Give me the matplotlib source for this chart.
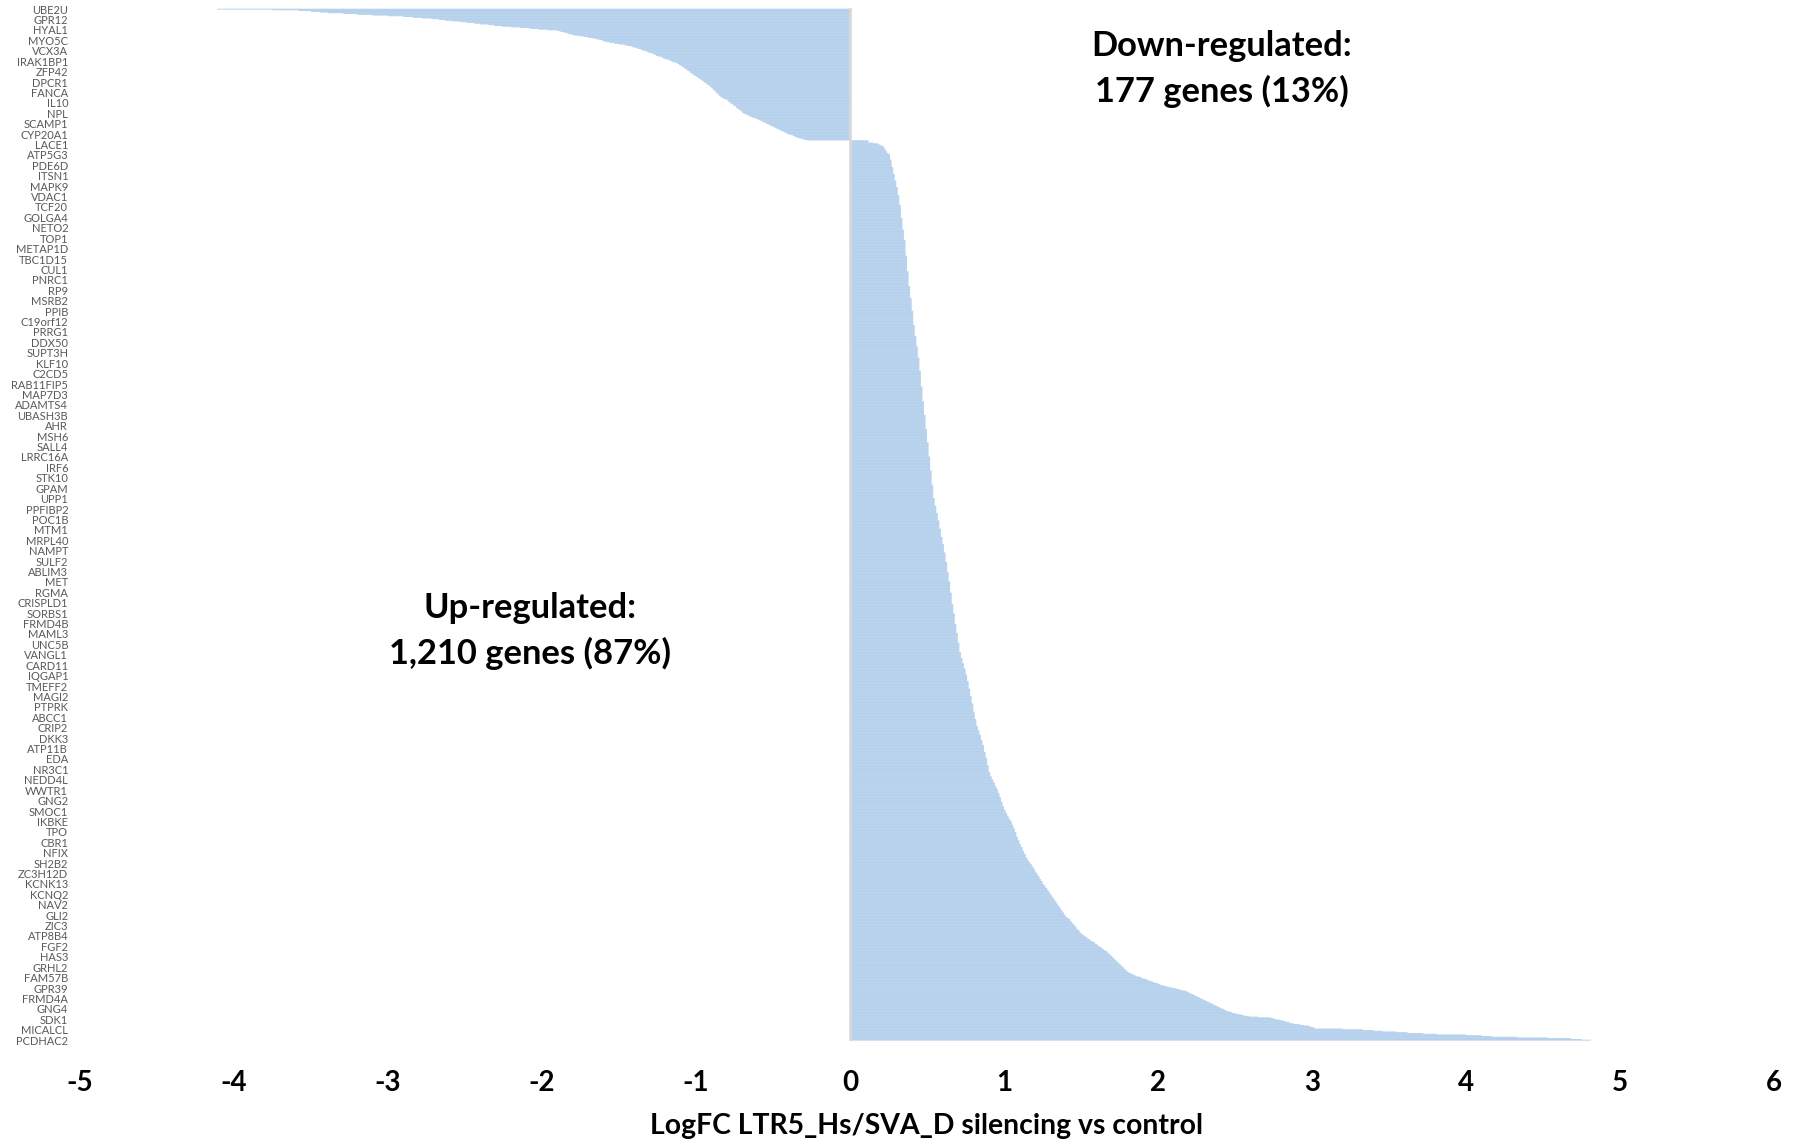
import numpy as np
import matplotlib
matplotlib.use('Agg')
import matplotlib.pyplot as plt

plt.rcParams['font.family'] = ['Lato', 'DejaVu Sans']

# sorted logFC (top of the chart first)
down_logfc = [
    -4.11, -3.75, -3.58, -3.50, -3.44, -3.39, -3.29, -3.20, -3.10, -3.00,
    -2.90, -2.84, -2.78, -2.72, -2.67, -2.63, -2.58, -2.53, -2.49, -2.44,
    -2.40, -2.35, -2.31, -2.26, -2.20, -2.14, -2.08, -2.02, -1.96, -1.90,
    -1.88, -1.86, -1.84, -1.83, -1.81, -1.79, -1.76, -1.73, -1.70, -1.67,
    -1.65, -1.63, -1.61, -1.60, -1.58, -1.56, -1.53, -1.50, -1.47, -1.45,
    -1.42, -1.41, -1.39, -1.38, -1.36, -1.35, -1.33, -1.32, -1.31, -1.29,
    -1.28, -1.27, -1.26, -1.25, -1.23, -1.22, -1.21, -1.20, -1.18, -1.17,
    -1.16, -1.15, -1.13, -1.12, -1.11, -1.11, -1.10, -1.09, -1.08, -1.08,
    -1.07, -1.06, -1.06, -1.05, -1.04, -1.04, -1.03, -1.02, -1.02, -1.01,
    -1.00, -0.99, -0.99, -0.98, -0.97, -0.97, -0.96, -0.95, -0.95, -0.94,
    -0.93, -0.93, -0.92, -0.91, -0.91, -0.90, -0.90, -0.89, -0.89, -0.88,
    -0.88, -0.87, -0.87, -0.86, -0.86, -0.85, -0.85, -0.84, -0.84, -0.83,
    -0.82, -0.81, -0.80, -0.79, -0.79, -0.78, -0.78, -0.77, -0.76, -0.76,
    -0.75, -0.74, -0.74, -0.73, -0.73, -0.72, -0.71, -0.71, -0.70, -0.70,
    -0.69, -0.68, -0.67, -0.66, -0.65, -0.64, -0.63, -0.61, -0.60, -0.59,
    -0.58, -0.57, -0.56, -0.55, -0.54, -0.53, -0.52, -0.51, -0.50, -0.49,
    -0.48, -0.47, -0.46, -0.45, -0.44, -0.43, -0.42, -0.41, -0.40, -0.38,
    -0.37, -0.36, -0.35, -0.34, -0.32, -0.30, -0.28,
]

# up-regulated bulk: logFC level and number of genes at that level
up_levels = [
    0.12, 0.15, 0.18, 0.19, 0.20, 0.21, 0.22, 0.23, 0.24, 0.25,
    0.26, 0.27, 0.28, 0.29, 0.30, 0.31, 0.32, 0.33, 0.34, 0.35,
    0.36, 0.37, 0.38, 0.39, 0.40, 0.41, 0.42, 0.43, 0.44, 0.45,
    0.46, 0.47, 0.48, 0.49, 0.50, 0.51, 0.52, 0.53, 0.54, 0.55,
    0.56, 0.57, 0.58, 0.59, 0.60, 0.61, 0.62, 0.63, 0.64, 0.65,
    0.66, 0.67, 0.68, 0.69, 0.70, 0.71, 0.72, 0.73, 0.74, 0.75,
    0.76, 0.77, 0.78, 0.79, 0.80, 0.81, 0.82, 0.83, 0.84, 0.85,
    0.86, 0.87, 0.88, 0.89, 0.90, 0.91, 0.92, 0.93, 0.94, 0.95,
    0.96, 0.97, 0.98, 0.99, 1.00, 1.01, 1.02, 1.03, 1.04, 1.05,
    1.06, 1.07, 1.08, 1.09, 1.10, 1.11, 1.12, 1.13, 1.14, 1.15,
    1.16, 1.17, 1.18, 1.19, 1.20, 1.21, 1.22, 1.23, 1.24, 1.25,
    1.26, 1.27, 1.28, 1.29, 1.30, 1.31, 1.32, 1.33, 1.34, 1.35,
    1.36, 1.37, 1.38, 1.39, 1.40, 1.41, 1.42, 1.43, 1.44, 1.45,
    1.46, 1.47, 1.48, 1.49, 1.50, 1.51, 1.52, 1.53, 1.54, 1.55,
    1.56, 1.57, 1.58, 1.59, 1.60, 1.61, 1.62, 1.63, 1.64, 1.65,
    1.66,
]
up_counts = [
    3, 1, 1, 1, 1, 1, 3, 3, 3, 2,
    7, 10, 9, 9, 9, 11, 13, 17, 16, 14,
    21, 21, 20, 16, 17, 19, 15, 14, 15, 18,
    21, 20, 18, 19, 18, 19, 19, 19, 18, 10,
    10, 10, 11, 11, 10, 11, 13, 13, 13, 15,
    15, 13, 14, 12, 13, 13, 8, 7, 7, 8,
    9, 10, 10, 10, 11, 10, 9, 6, 6, 7,
    7, 9, 8, 10, 9, 6, 4, 4, 5, 4,
    5, 6, 6, 6, 5, 4, 4, 4, 3, 5,
    5, 5, 6, 5, 5, 4, 5, 4, 5, 3,
    3, 3, 3, 3, 4, 3, 3, 4, 3, 4,
    2, 3, 3, 3, 3, 3, 3, 3, 3, 3,
    3, 3, 3, 3, 3, 1, 2, 3, 2, 3,
    2, 3, 2, 3, 2, 1, 2, 1, 2, 1,
    2, 1, 1, 2, 1, 2, 1, 2, 1, 2,
    1,
]

# strongest up-regulated genes, one value per gene
up_tail = [
    1.67, 1.67, 1.68, 1.68, 1.69, 1.69, 1.70, 1.70, 1.71, 1.71, 1.72, 1.72, 1.73, 1.73,
    1.74, 1.74, 1.75, 1.75, 1.76, 1.76, 1.77, 1.77, 1.78, 1.78, 1.79, 1.79, 1.80, 1.80, 1.81,
    1.82, 1.83, 1.84, 1.85, 1.86, 1.88, 1.89,
    1.90, 1.92, 1.93, 1.94, 1.96, 1.97, 1.98, 2.00, 2.01,
    2.02, 2.04, 2.06, 2.08, 2.10, 2.12, 2.14, 2.16, 2.18,
    2.19, 2.20, 2.21, 2.22, 2.23, 2.24, 2.25, 2.26, 2.27,
    2.28, 2.29, 2.30, 2.31, 2.32, 2.33, 2.34, 2.35,
    2.36, 2.37, 2.38, 2.39, 2.40, 2.41, 2.42,
    2.43, 2.44, 2.45, 2.47, 2.48, 2.50, 2.52,
    2.54, 2.56, 2.59, 2.65, 2.73, 2.75, 2.77, 2.79, 2.81, 2.83,
    2.85, 2.86, 2.88, 2.92, 2.95, 2.98, 2.99, 3.01, 3.02, 3.20,
    3.33, 3.40, 3.46, 3.55, 3.62, 3.72, 3.81, 4.00, 4.10, 4.17,
    4.33, 4.53, 4.68, 4.75, 4.81,
]

# every 14th gene is labelled on the axis
gene_labels = [
    'UBE2U', 'GPR12', 'HYAL1', 'MYO5C', 'VCX3A', 'IRAK1BP1', 'ZFP42', 'DPCR1', 'FANCA', 'IL10',
    'NPL', 'SCAMP1', 'CYP20A1', 'LACE1', 'ATP5G3', 'PDE6D', 'ITSN1', 'MAPK9', 'VDAC1', 'TCF20',
    'GOLGA4', 'NETO2', 'TOP1', 'METAP1D', 'TBC1D15', 'CUL1', 'PNRC1', 'RP9', 'MSRB2', 'PPIB',
    'C19orf12', 'PRRG1', 'DDX50', 'SUPT3H', 'KLF10', 'C2CD5', 'RAB11FIP5', 'MAP7D3', 'ADAMTS4', 'UBASH3B',
    'AHR', 'MSH6', 'SALL4', 'LRRC16A', 'IRF6', 'STK10', 'GPAM', 'UPP1', 'PPFIBP2', 'POC1B',
    'MTM1', 'MRPL40', 'NAMPT', 'SULF2', 'ABLIM3', 'MET', 'RGMA', 'CRISPLD1', 'SORBS1', 'FRMD4B',
    'MAML3', 'UNC5B', 'VANGL1', 'CARD11', 'IQGAP1', 'TMEFF2', 'MAGI2', 'PTPRK', 'ABCC1', 'CRIP2',
    'DKK3', 'ATP11B', 'EDA', 'NR3C1', 'NEDD4L', 'WWTR1', 'GNG2', 'SMOC1', 'IKBKE', 'TPO',
    'CBR1', 'NFIX', 'SH2B2', 'ZC3H12D', 'KCNK13', 'KCNQ2', 'NAV2', 'GLI2', 'ZIC3', 'ATP8B4',
    'FGF2', 'HAS3', 'GRHL2', 'FAM57B', 'GPR39', 'FRMD4A', 'GNG4', 'SDK1', 'MICALCL', 'PCDHAC2',
]
label_step = 14

x_ticks = [-5, -4, -3, -2, -1, 0, 1, 2, 3, 4, 5, 6]

logfc = np.concatenate([down_logfc, np.repeat(up_levels, up_counts), up_tail])
pos = np.arange(len(logfc))

fig = plt.figure(figsize=(17.93, 11.46), dpi=100)
ax = fig.add_axes([80 / 1793, 1 - 1040.5 / 1146, 1694 / 1793, 1032.5 / 1146])

ax.barh(pos, logfc, height=1.0, color='#A6C7E9', linewidth=0, snap=False)
ax.axvline(0, color='#D9D9D9', lw=2, zorder=3)

ax.set_xlim(-5, 6)
ax.set_ylim(len(logfc) - 0.5, -1.5)

ax.set_yticks(np.arange(len(gene_labels)) * label_step)
ax.set_yticklabels(gene_labels, fontsize=8, color='#595959')
ax.set_xticks(x_ticks)
ax.set_xticklabels([str(t) for t in x_ticks], fontsize=20, fontweight='bold')
ax.tick_params(axis='y', length=0, pad=8.5)
ax.tick_params(axis='x', length=0, pad=21)

for s in ax.spines.values():
    s.set_visible(False)

ax.set_xlabel('LogFC LTR5_Hs/SVA_D silencing vs control', fontsize=20.4, fontweight='bold')
ax.xaxis.label.set_va('center')
ax.xaxis.set_label_coords(0.5, (20 / 1146 - (1 - 1040.5 / 1146)) / (1032.5 / 1146))

fig.text(1222 / 1793, 1 - 69 / 1146, 'Down-regulated:\n177 genes (13%)', ha='center', va='center',
         fontsize=24.8, fontweight='bold', linespacing=1.46)
fig.text(530 / 1793, 1 - 631 / 1146, 'Up-regulated:\n1,210 genes (87%)', ha='center', va='center',
         fontsize=24.8, fontweight='bold', linespacing=1.46)

fig.savefig('out.png', dpi=100)
